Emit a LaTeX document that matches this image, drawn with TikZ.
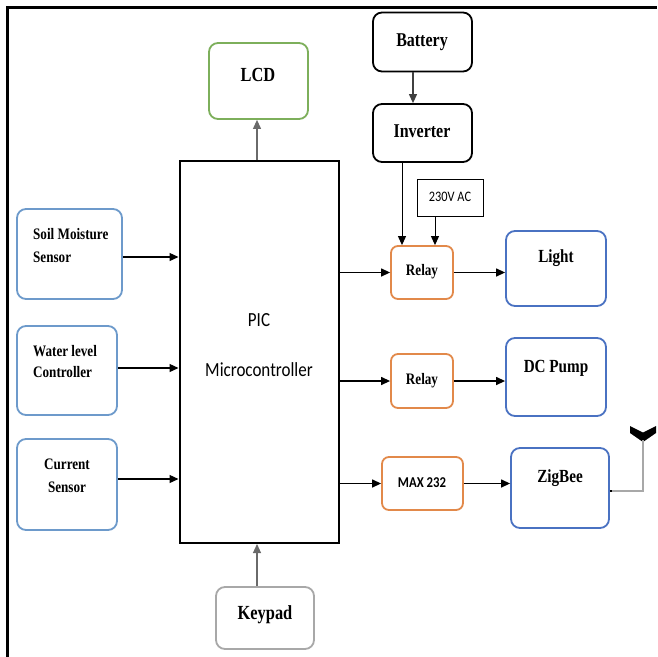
\documentclass[tikz,border=0pt]{standalone}
\usepackage{fontspec}
\setmainfont{Liberation Serif}
\newfontfamily\tnr[FakeStretch=0.82]{Liberation Serif}
\newfontfamily\calib[FakeStretch=0.85]{Carlito}
\usetikzlibrary{arrows.meta}
\definecolor{sensblue}{HTML}{6D9ACB}
\definecolor{devblue}{HTML}{4A72C2}
\definecolor{orng}{HTML}{E2894A}
\definecolor{grn}{HTML}{7DAF5B}
\definecolor{gry}{HTML}{A8A8A8}
\definecolor{lgry}{HTML}{6A6A6A}
\begin{document}
\begin{tikzpicture}[x=1pt,y=-1pt,
  box/.style={draw, rounded corners=9pt, line width=1.8pt, inner sep=0pt},
  sbox/.style={draw, rounded corners=7pt, line width=1.8pt, inner sep=0pt},
  sensor/.style={box, draw=sensblue},
  device/.style={box, draw=devblue},
  relaybox/.style={sbox, draw=orng},
  blackbox/.style={box, draw=black},
  labbig/.style={font=\fontsize{19.5}{22}\selectfont\tnr\bfseries, inner sep=0pt},
  labmid/.style={font=\fontsize{18.5}{22}\selectfont\tnr\bfseries, inner sep=0pt},
  labsm/.style={font=\fontsize{16}{22.5}\selectfont\tnr\bfseries, inner sep=0pt},
  arr/.style={-{Triangle[length=9pt,width=8pt]}, line width=1.3pt},
  garr/.style={arr, draw=lgry, line width=1.1pt}
]
\useasboundingbox (0,0) rectangle (657,657);
\fill[white] (0,0) rectangle (657,657);
% frame
\draw[line width=3pt] (7.5,657) -- (7.5,7.5) -- (657,7.5);

% PIC
\node[draw, line width=2pt, minimum width=159pt, minimum height=382pt, inner sep=0pt] (pic) at (259,352) {};
\node[font=\fontsize{20}{24}\selectfont\calib, inner sep=0pt] (picT) at (259,320) {PIC};
\node[font=\fontsize{20}{24}\selectfont\calib, inner sep=0pt] (picT2) at (259,370) {Microcontroller};

% LCD
\node[box, draw=grn, minimum width=99pt, minimum height=76pt] (lcd) at (258.5,81) {};
\node[labbig, font=\fontsize{20}{24}\selectfont\tnr\bfseries] (lcdT) at (258,75) {LCD};
\draw[garr] (pic.north -| 257,0) -- (lcd.south -| 257,0);

% Battery / Inverter
\node[blackbox, minimum width=99pt, minimum height=59pt] (bat) at (422.5,42) {};
\node[labbig] (batT) at (422,42) {Battery};
\node[blackbox, minimum width=99pt, minimum height=58pt] (inv) at (422.5,133) {};
\node[labbig] (invT) at (422,131) {Inverter};
\draw[garr, draw=black!75] (bat.south -| 413,0) -- (inv.north -| 413,0);

% 230V AC
\node[draw, line width=1pt, minimum width=66pt, minimum height=37pt, inner sep=0pt] (ac) at (450,197.5) {};
\node[font=\fontsize{14.5}{17}\selectfont\calib, inner sep=0pt] (acT) at (450,197) {230V AC};

% Relays
\node[relaybox, minimum width=62pt, minimum height=53pt] (rel1) at (422,272.5) {};
\node[labsm] (rel1T) at (422,272) {Relay};
\node[relaybox, minimum width=62pt, minimum height=54pt] (rel2) at (422,381) {};
\node[labsm] (rel2T) at (422,381) {Relay};
\node[relaybox, minimum width=81pt, minimum height=53pt] (max) at (422.5,483.5) {};
\node[font=\fontsize{15}{18}\selectfont\calib\bfseries, inner sep=0pt] (maxT) at (422,483) {MAX 232};

\draw[arr, line width=1pt] (inv.south -| 402,0) -- (rel1.north -| 402,0);
\draw[arr, line width=1pt] (ac.south -| 435,0) -- (rel1.north -| 435,0);

% Devices
\node[device, minimum width=100pt, minimum height=75pt] (light) at (556,268.5) {};
\node[labmid] (lightT) at (556,258) {Light};
\node[device, minimum width=100pt, minimum height=78pt] (pump) at (556,377) {};
\node[labmid] (pumpT) at (556,368) {DC Pump};
\node[device, minimum width=98pt, minimum height=80pt] (zig) at (560,488) {};
\node[labmid] (zigT) at (560,478) {ZigBee};

% PIC -> relays, relays -> devices
\draw[arr] (rel1.west -| pic.east) -- (rel1.west);
\draw[arr] (rel2.west -| pic.east) -- (rel2.west);
\draw[arr] (max.west -| pic.east) -- (max.west);
\draw[arr] (rel1.east) -- (rel1.east -| light.west);
\draw[arr] (rel2.east) -- (rel2.east -| pump.west);
\draw[arr] (max.east) -- (max.east -| zig.west);

% Antenna
\coordinate (ant) at (643,440);
\fill (630,426) -- (643,432.5) -- (656,426) -- (656,433) -- (643,442) -- (630,433) -- cycle;
\draw[draw=gry, line width=1.8pt] (zig.east |- 0,491) -| (ant);
\draw[line width=1.3pt] (zig.east |- 0,491) -- (612,491);

% Sensors
\node[sensor, minimum width=105pt, minimum height=90pt] (soil) at (69.5,254) {};
\node[labsm, anchor=west, align=left] (soilT) at (33,245.5) {Soil Moisture\\Sensor};
\node[sensor, minimum width=100pt, minimum height=89pt] (water) at (67,370.5) {};
\node[labsm, anchor=west, align=left, font=\fontsize{16}{21}\selectfont\tnr\bfseries] (waterT) at (33,361.5) {Water level\\Controller};
\node[sensor, minimum width=100pt, minimum height=91pt] (curr) at (67,484.5) {};
\node[labsm, align=center] (currT) at (67,476) {Current\\Sensor};

\draw[arr] (soil.east |- 0,257) -- (pic.west |- 0,257);
\draw[arr] (water.east |- 0,368) -- (pic.west |- 0,368);
\draw[arr] (curr.east |- 0,479) -- (pic.west |- 0,479);

% Keypad
\node[box, draw=gry, minimum width=98pt, minimum height=62pt] (key) at (265,618) {};
\node[labbig, font=\fontsize{20}{24}\selectfont\tnr\bfseries] (keyT) at (265,615) {Keypad};
\draw[garr] (key.north -| 257,0) -- (pic.south -| 257,0);
\end{tikzpicture}
\end{document}
